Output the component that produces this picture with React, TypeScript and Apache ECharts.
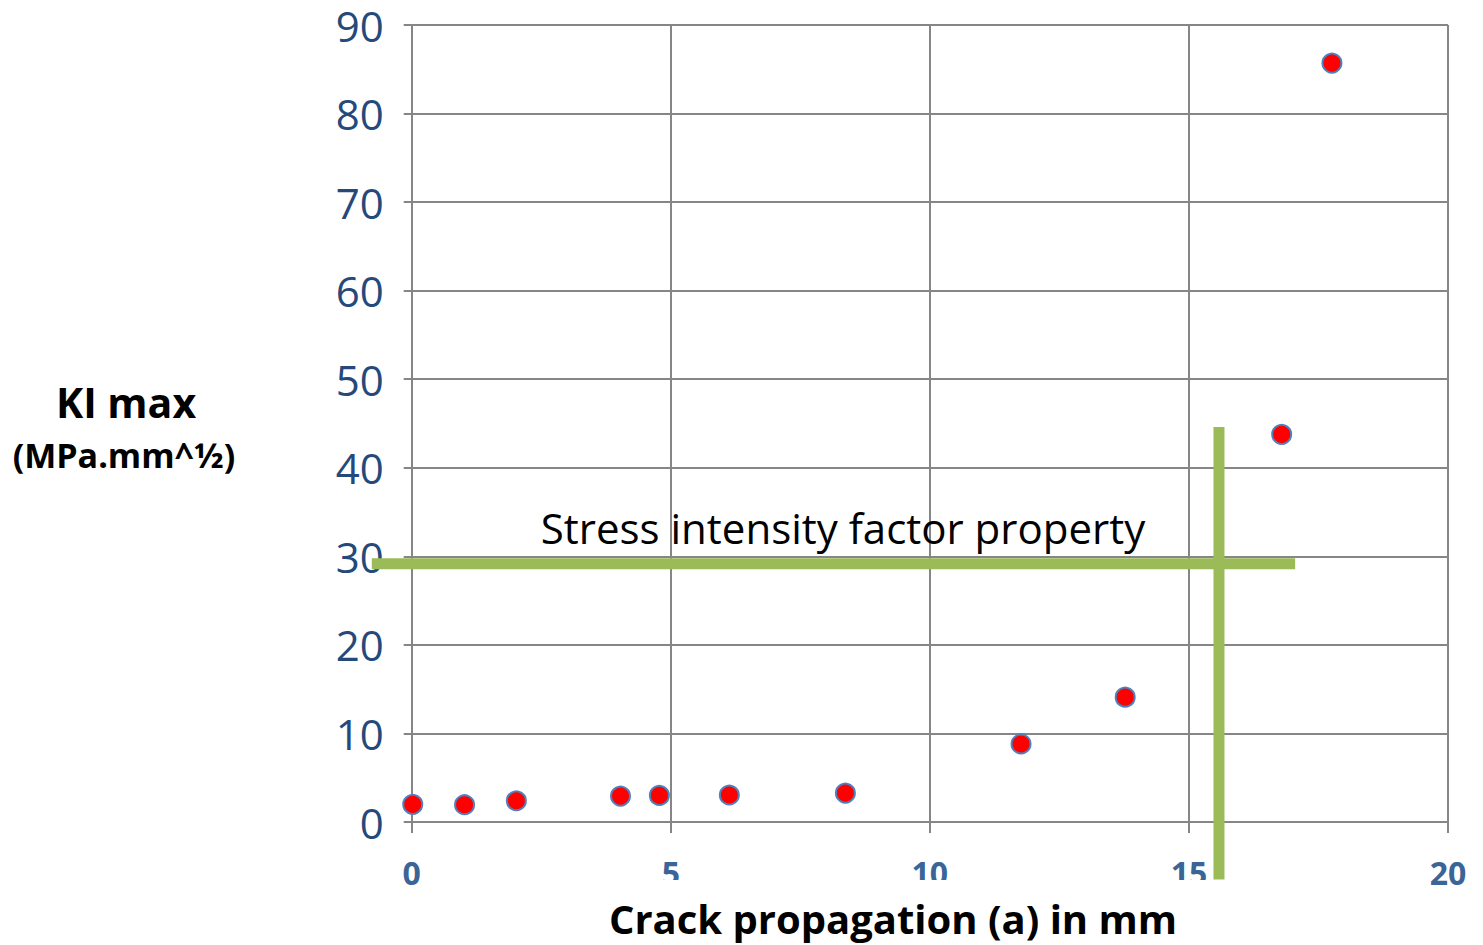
import React, { useEffect, useRef } from "react";
import * as echarts from "echarts";

const crackMm = [0.02, 1.02, 2.02, 4.03, 4.78, 6.13, 8.37, 11.76, 13.77, 16.79, 17.76];
const kiMax = [2.0, 1.95, 2.4, 2.93, 3.0, 3.05, 3.27, 8.81, 14.1, 43.78, 85.7];
const xTicks = [0, 5, 10, 15, 20];
const yTicks = [0, 10, 20, 30, 40, 50, 60, 70, 80, 90];
// Annotation cross (data units)
const hLine = { y: 29.17, x1: -0.77, x2: 17.05 };
const vLine = { x: 15.58, y1: 44.6, y2: -6.5 };
const annotationText = "Stress intensity factor property";
const xTitle = "Crack propagation (a) in mm";
const yTitle1 = "KI max";
const yTitle2 = "(MPa.mm^½)";

export default function App() {
  const ref = useRef<HTMLDivElement>(null);
  useEffect(() => {
    if (!ref.current) return;
    const chart = echarts.init(ref.current, null, { renderer: "svg" });
    const font = "'Open Sans', 'Noto Sans', sans-serif";
    chart.setOption({
      animation: false,
      grid: { left: 411.7, right: 35, top: 25, bottom: 123 },
      xAxis: {
        type: "value",
        min: xTicks[0],
        max: xTicks[xTicks.length - 1],
        interval: 5,
        axisLine: { show: true, lineStyle: { color: "#868686", width: 2 } },
        axisTick: { show: true, length: 11, lineStyle: { color: "#868686", width: 2 } },
        splitLine: { show: true, lineStyle: { color: "#868686", width: 2 } },
        axisLabel: {
          color: "#3B6497",
          fontFamily: font,
          fontWeight: "bold",
          fontSize: 32,
          margin: 34,
        },
      },
      yAxis: {
        type: "value",
        min: yTicks[0],
        max: yTicks[yTicks.length - 1],
        interval: 10,
        axisLine: { show: true, lineStyle: { color: "#868686", width: 2 } },
        axisTick: { show: true, length: 8, lineStyle: { color: "#868686", width: 2 } },
        splitLine: { show: true, lineStyle: { color: "#868686", width: 2 } },
        axisLabel: {
          color: "#24497A",
          fontFamily: font,
          fontSize: 42,
          lineHeight: 30,
          margin: 28,
        },
      },
      series: [
        {
          type: "scatter",
          data: crackMm.map((x, i) => [x, kiMax[i]]),
          symbol: "circle",
          symbolSize: 19,
          itemStyle: { color: "#FF0000", borderColor: "#4F81BD", borderWidth: 2, opacity: 1 },
          z: 5,
        },
      ],
    });

    const p = (x: number, y: number) => chart.convertToPixel({ gridIndex: 0 }, [x, y]) as number[];
    const h1 = p(hLine.x1, hLine.y);
    const h2 = p(hLine.x2, hLine.y);
    const v1 = p(vLine.x, vLine.y1);
    const v2 = p(vLine.x, vLine.y2);
    const green = "#9BBB59";

    chart.setOption({
      graphic: [
        {
          type: "rect",
          z: 100,
          shape: { x: 560, y: 880, width: 665, height: 20 },
          style: { fill: "#ffffff" },
        },
        {
          type: "line",
          z: 101,
          shape: { x1: h1[0], y1: h1[1], x2: h2[0], y2: h2[1] },
          style: { stroke: green, lineWidth: 11 },
        },
        {
          type: "line",
          z: 101,
          shape: { x1: v1[0], y1: v1[1], x2: v2[0], y2: v2[1] },
          style: { stroke: green, lineWidth: 11 },
        },
        {
          type: "text",
          z: 102,
          x: 843,
          y: 527,
          style: {
            text: annotationText,
            fill: "#000000",
            font: `42px ${font}`,
            textAlign: "center",
            textVerticalAlign: "middle",
          },
        },
        {
          type: "text",
          z: 102,
          x: 893,
          y: 918,
          style: {
            text: xTitle,
            fill: "#000000",
            font: `bold 40px ${font}`,
            textAlign: "center",
            textVerticalAlign: "middle",
          },
        },
        {
          type: "text",
          z: 102,
          x: 126,
          y: 402,
          style: {
            text: yTitle1,
            fill: "#000000",
            font: `bold 41px ${font}`,
            textAlign: "center",
            textVerticalAlign: "middle",
          },
        },
        {
          type: "text",
          z: 102,
          x: 124,
          y: 455,
          style: {
            text: yTitle2,
            fill: "#000000",
            font: `bold 34px ${font}`,
            textAlign: "center",
            textVerticalAlign: "middle",
          },
        },
      ],
    });

    return () => chart.dispose();
  }, []);
  return (
    <div
      ref={ref}
      style={{ position: "absolute", left: 0, top: 0, width: 1483, height: 945, background: "#ffffff" }}
    />
  );
}
